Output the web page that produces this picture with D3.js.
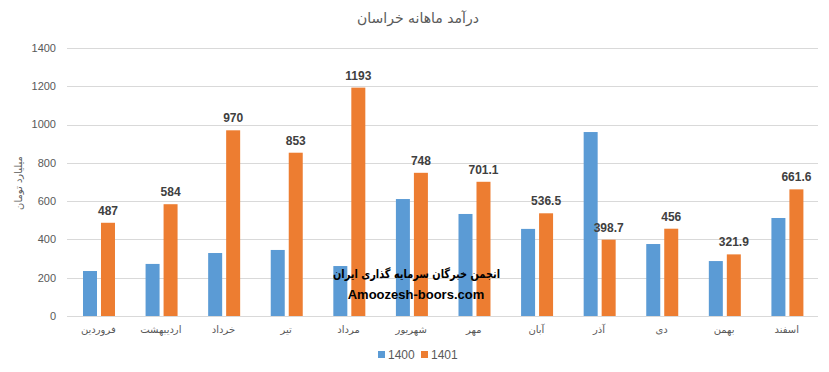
<!DOCTYPE html>
<html>
<head>
<meta charset="utf-8">
<script src="https://cdn.jsdelivr.net/npm/d3@7"></script>
<style>
  body { margin: 0; background: #fff; }
  svg { display: block; font-family: "DejaVu Sans", sans-serif; }
</style>
</head>
<body>
<svg width="829" height="372"></svg>
<script>
// months of the Persian year
const months = ["فروردین", "اردیبهشت", "خرداد", "تیر", "مرداد", "شهریور", "مهر", "آبان", "آذر", "دی", "بهمن", "اسفند"];
const series = ["1400", "1401"];
const values1400 = [235, 272, 329, 345, 261, 611, 533, 455, 961, 376, 287, 512];
const values1401 = [487, 584, 970, 853, 1193, 748, 701.1, 536.5, 398.7, 456, 321.9, 661.6];
const yTicks = [0, 200, 400, 600, 800, 1000, 1200, 1400];
const colors = ["#5b9bd5", "#ed7d31"];

window.onload = () => {
  const svg = d3.select("svg");
  const margin = { top: 48, left: 67, right: 11, bottom: 56 };
  const width = +svg.attr("width");
  const height = +svg.attr("height");

  const data = months.map((m, i) => ({ month: m, v: [values1400[i], values1401[i]] }));

  const x = d3.scaleBand()
    .domain(months)
    .range([margin.left, width - margin.right]);
  const xInner = d3.scaleBand()
    .domain(series)
    .range([0, x.bandwidth()])
    .paddingInner(0.222)
    .paddingOuter(0.85);
  const y = d3.scaleLinear()
    .domain([0, 1400])
    .range([height - margin.bottom, margin.top]);

  // gridlines
  svg.append("g")
    .selectAll("line")
    .data(yTicks)
    .enter()
    .append("line")
    .attr("x1", margin.left)
    .attr("x2", width - margin.right)
    .attr("y1", d => Math.round(y(d)) + 0.5)
    .attr("y2", d => Math.round(y(d)) + 0.5)
    .attr("stroke", "#d9d9d9")
    .attr("stroke-width", 1);

  // y tick labels
  svg.append("g")
    .selectAll("text")
    .data(yTicks)
    .enter()
    .append("text")
    .attr("x", 56)
    .attr("y", d => y(d))
    .attr("dy", "0.35em")
    .attr("text-anchor", "end")
    .attr("font-family", "Liberation Sans, Arial, sans-serif")
    .attr("font-size", 11)
    .attr("fill", "#595959")
    .text(d => d);

  // bars
  const groups = svg.append("g")
    .selectAll("g")
    .data(data)
    .enter()
    .append("g")
    .attr("transform", d => `translate(${x(d.month) + 0.7},0)`);

  groups.selectAll("rect")
    .data(d => d.v.map((v, i) => ({ key: series[i], v })))
    .enter()
    .append("rect")
    .attr("x", d => xInner(d.key))
    .attr("y", d => y(d.v))
    .attr("width", xInner.bandwidth())
    .attr("height", d => y(0) - y(d.v))
    .attr("fill", (d, i) => colors[i]);

  // data labels on 1401
  groups.append("text")
    .attr("x", xInner("1401") + xInner.bandwidth() / 2)
    .attr("y", d => y(d.v[1]) - 8)
    .attr("text-anchor", "middle")
    .attr("font-family", "Liberation Sans, Arial, sans-serif")
    .attr("font-weight", "bold")
    .attr("font-size", 12)
    .attr("fill", "#404040")
    .text(d => d.v[1]);

  // x labels
  svg.append("g")
    .selectAll("text")
    .data(months)
    .enter()
    .append("text")
    .attr("x", d => x(d) + x.bandwidth() / 2)
    .attr("y", 333)
    .attr("text-anchor", "middle")
    .attr("font-size", 10)
    .attr("fill", "#595959")
    .text(d => d);

  // title
  svg.append("text")
    .attr("x", 418)
    .attr("y", 23)
    .attr("text-anchor", "middle")
    .attr("font-size", 14)
    .attr("fill", "#595959")
    .text("درآمد ماهانه خراسان");

  // y axis title
  svg.append("text")
    .attr("transform", "translate(22,183) rotate(-90)")
    .attr("text-anchor", "middle")
    .attr("font-size", 10)
    .attr("fill", "#595959")
    .text("میلیارد تومان");

  // legend
  const legend = svg.append("g").attr("transform", "translate(378,351)");
  series.forEach((s, i) => {
    const g = legend.append("g").attr("transform", `translate(${i * 43},0)`);
    g.append("rect").attr("width", 7).attr("height", 7).attr("fill", colors[i]);
    g.append("text")
      .attr("x", 10)
      .attr("y", 4)
      .attr("dy", "0.35em")
      .attr("font-family", "Liberation Sans, Arial, sans-serif")
      .attr("font-size", 12)
      .attr("fill", "#595959")
      .text(s);
  });

  // watermark
  svg.append("text")
    .attr("x", 333)
    .attr("y", 278)
    .attr("font-weight", "bold")
    .attr("font-size", 12)
    .attr("fill", "#000")
    .attr("textLength", 167)
    .attr("lengthAdjust", "spacingAndGlyphs")
    .text("انجمن خبرگان سرمایه گذاری ایران");
  svg.append("text")
    .attr("x", 416)
    .attr("y", 299)
    .attr("text-anchor", "middle")
    .attr("font-family", "Liberation Sans, Arial, sans-serif")
    .attr("font-weight", "bold")
    .attr("font-size", 13)
    .attr("fill", "#000")
    .text("Amoozesh-boors.com");
};
</script>
</body>
</html>
